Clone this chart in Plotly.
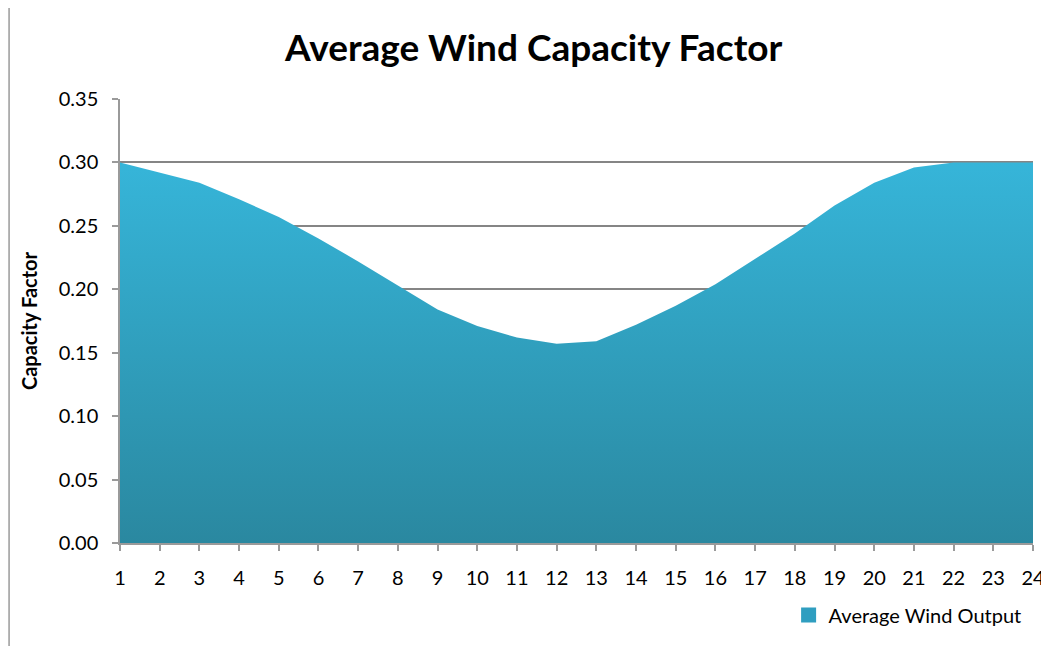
import plotly.graph_objects as go

hours = list(range(1, 25))
capacity_factor = [0.300, 0.292, 0.284, 0.271, 0.257, 0.240, 0.222, 0.203, 0.184, 0.171,
                   0.162, 0.157, 0.159, 0.172, 0.187, 0.204, 0.224, 0.244, 0.266, 0.284,
                   0.296, 0.300, 0.300, 0.300]
y_ticks = [0.00, 0.05, 0.10, 0.15, 0.20, 0.25, 0.30, 0.35]
series_name = "Average Wind Output"

FONT = "Lato, Open Sans, sans-serif"

fig = go.Figure()
fig.add_trace(go.Scatter(
    x=hours, y=capacity_factor, mode="lines", name=series_name,
    line=dict(width=0, color="#33aed1"),
    fill="tozeroy",
    fillgradient=dict(type="vertical",
                      colorscale=[[0, "#2a88a0"], [1, "#36b5d9"]]),
    showlegend=False,
    hoverinfo="x+y",
))
# legend entry (square swatch, as in the original)
fig.add_trace(go.Scatter(
    x=[None], y=[None], mode="markers", name=series_name,
    marker=dict(symbol="square", size=15, color="#2f9ec0",
                line=dict(width=0)),
    showlegend=True,
))

# the page adds an 8px body margin, so the figure is sized 8px smaller
fig.update_layout(
    width=1041, height=638,
    paper_bgcolor="white", plot_bgcolor="white",
    margin=dict(l=112, r=16, t=91, b=103, autoexpand=False),
    title=dict(text="<b>Average Wind Capacity Factor</b>", x=0.505, xanchor="center",
               y=0.938, yanchor="middle",
               font=dict(family=FONT, size=37, color="black")),
    font=dict(family=FONT, size=18, color="black"),
    showlegend=True,
    legend=dict(x=0.993, xanchor="right", y=-0.118, yanchor="top",
                font=dict(family=FONT, size=20, color="black"),
                bgcolor="rgba(0,0,0,0)", itemwidth=30),
    xaxis=dict(range=[1, 24], tickmode="array", tickvals=hours,
               ticktext=[str(h) for h in hours],
               showgrid=False, zeroline=False, automargin=False,
               showline=True, linecolor="#9a9a9a", linewidth=2,
               ticks="outside", ticklen=6, tickcolor="#9a9a9a", tickwidth=1.5,
               ticklabelstandoff=10,
               tickfont=dict(size=20)),
    yaxis=dict(range=[0, 0.35], tickmode="array", tickvals=y_ticks,
               ticktext=[f"{v:.2f}" for v in y_ticks],
               showgrid=True, gridcolor="#858585", gridwidth=1.5,
               zeroline=False, automargin=False,
               showline=True, linecolor="#9a9a9a", linewidth=1.5,
               ticks="outside", ticklen=6, tickcolor="#9a9a9a", tickwidth=1.5,
               ticklabelstandoff=10,
               tickfont=dict(size=20),
               title=dict(text="<b>Capacity Factor</b>", font=dict(size=20), standoff=16)),
)

fig.add_shape(type="line", xref="paper", yref="paper",
              x0=-0.1215, x1=-0.1215, y0=-0.24, y1=1.23,
              line=dict(color="#9a9a9a", width=1.5))

fig.write_html("out.html")
